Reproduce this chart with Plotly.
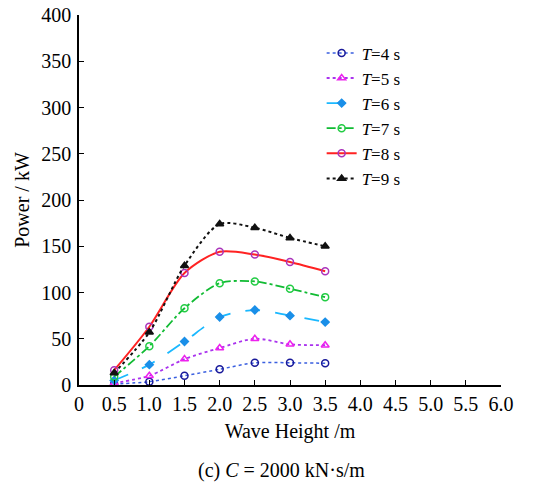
import plotly.graph_objects as go

wave_height = [0.5, 1.0, 1.5, 2.0, 2.5, 3.0, 3.5]
power_T4 = [1, 3.6, 10, 17, 24, 24, 23.5]
power_T5 = [2, 10, 28, 40, 50, 44, 43]
power_T6 = [5, 22, 47, 73.5, 81, 75, 68]
power_T7 = [9, 42, 83, 110, 112, 104, 95]
power_T8 = [16, 63, 121, 144, 141, 133, 123]
power_T9 = [13, 57, 129, 174, 170, 159, 150]

x_ticks = [0, 0.5, 1.0, 1.5, 2.0, 2.5, 3.0, 3.5, 4.0, 4.5, 5.0, 5.5, 6.0]
x_tick_labels = ["0", "0.5", "1.0", "1.5", "2.0", "2.5", "3.0", "3.5", "4.0", "4.5", "5.0", "5.5", "6.0"]
y_ticks = [0, 50, 100, 150, 200, 250, 300, 350, 400]

series = [
    ("<i>T</i>=4 s", power_T4, "#3a5fe0", "dot", 1.5, "circle-open", "#1a1a9a", 7),
    ("<i>T</i>=5 s", power_T5, "#aa33ee", "dot", 1.8, "triangle-up-open", "#ee22ee", 7),
    ("<i>T</i>=6 s", power_T6, "#1ab8ff", "longdash", 1.8, "diamond", "#1a8fe8", 6),
    ("<i>T</i>=7 s", power_T7, "#11bb33", "dashdot", 1.8, "circle-open", "#22cc44", 7),
    ("<i>T</i>=8 s", power_T8, "#ff2222", "solid", 2, "circle-open", "#aa33bb", 7),
    ("<i>T</i>=9 s", power_T9, "#111111", "dot", 2, "triangle-up", "#111111", 7),
]

fig = go.Figure()
for name, vals, lc, dash, lw, sym, mc, ms in series:
    fig.add_trace(go.Scatter(
        x=wave_height, y=vals, name=name, mode="lines+markers",
        line=dict(color=lc, dash=dash, width=lw, shape="spline", smoothing=0.8),
        marker=dict(symbol=sym, color=mc, size=ms, line=dict(color=mc, width=1.5)),
    ))

font = "Liberation Serif, Times New Roman, serif"
fig.update_layout(
    width=541, height=483,
    margin=dict(l=79, r=40, t=15, b=98),
    plot_bgcolor="white", paper_bgcolor="white",
    font=dict(family=font, size=20, color="black"),
    showlegend=True,
    legend=dict(x=0.575, y=0.945, xanchor="left", yanchor="top",
                bgcolor="rgba(0,0,0,0)", font=dict(size=17),
                itemwidth=30, tracegroupgap=0),
    xaxis=dict(range=[0, 6], tickvals=x_ticks, ticktext=x_tick_labels,
               showgrid=False, zeroline=False, showline=True, linecolor="black",
               linewidth=1.5, ticks="inside", ticklen=5, tickcolor="black",
               automargin=False,
               title=dict(text="Wave Height /m", standoff=10, font=dict(size=20))),
    yaxis=dict(range=[0, 400], tickvals=y_ticks,
               showgrid=False, zeroline=False, showline=True, linecolor="black",
               linewidth=1.5, ticks="inside", ticklen=5, tickcolor="black",
               automargin=False, ticklabelstandoff=2, ticklabeloverflow="allow",
               title=dict(text="Power / kW", standoff=6, font=dict(size=20))),
    annotations=[dict(text="(c) <i>C</i> = 2000 kN·s/m", xref="paper", yref="paper",
                      x=0.479, y=-0.23, xanchor="center", yanchor="middle",
                      showarrow=False, font=dict(size=20))],
)

fig.write_html("out.html", config={"displayModeBar": False},
               post_script="document.body.style.margin='0';")
